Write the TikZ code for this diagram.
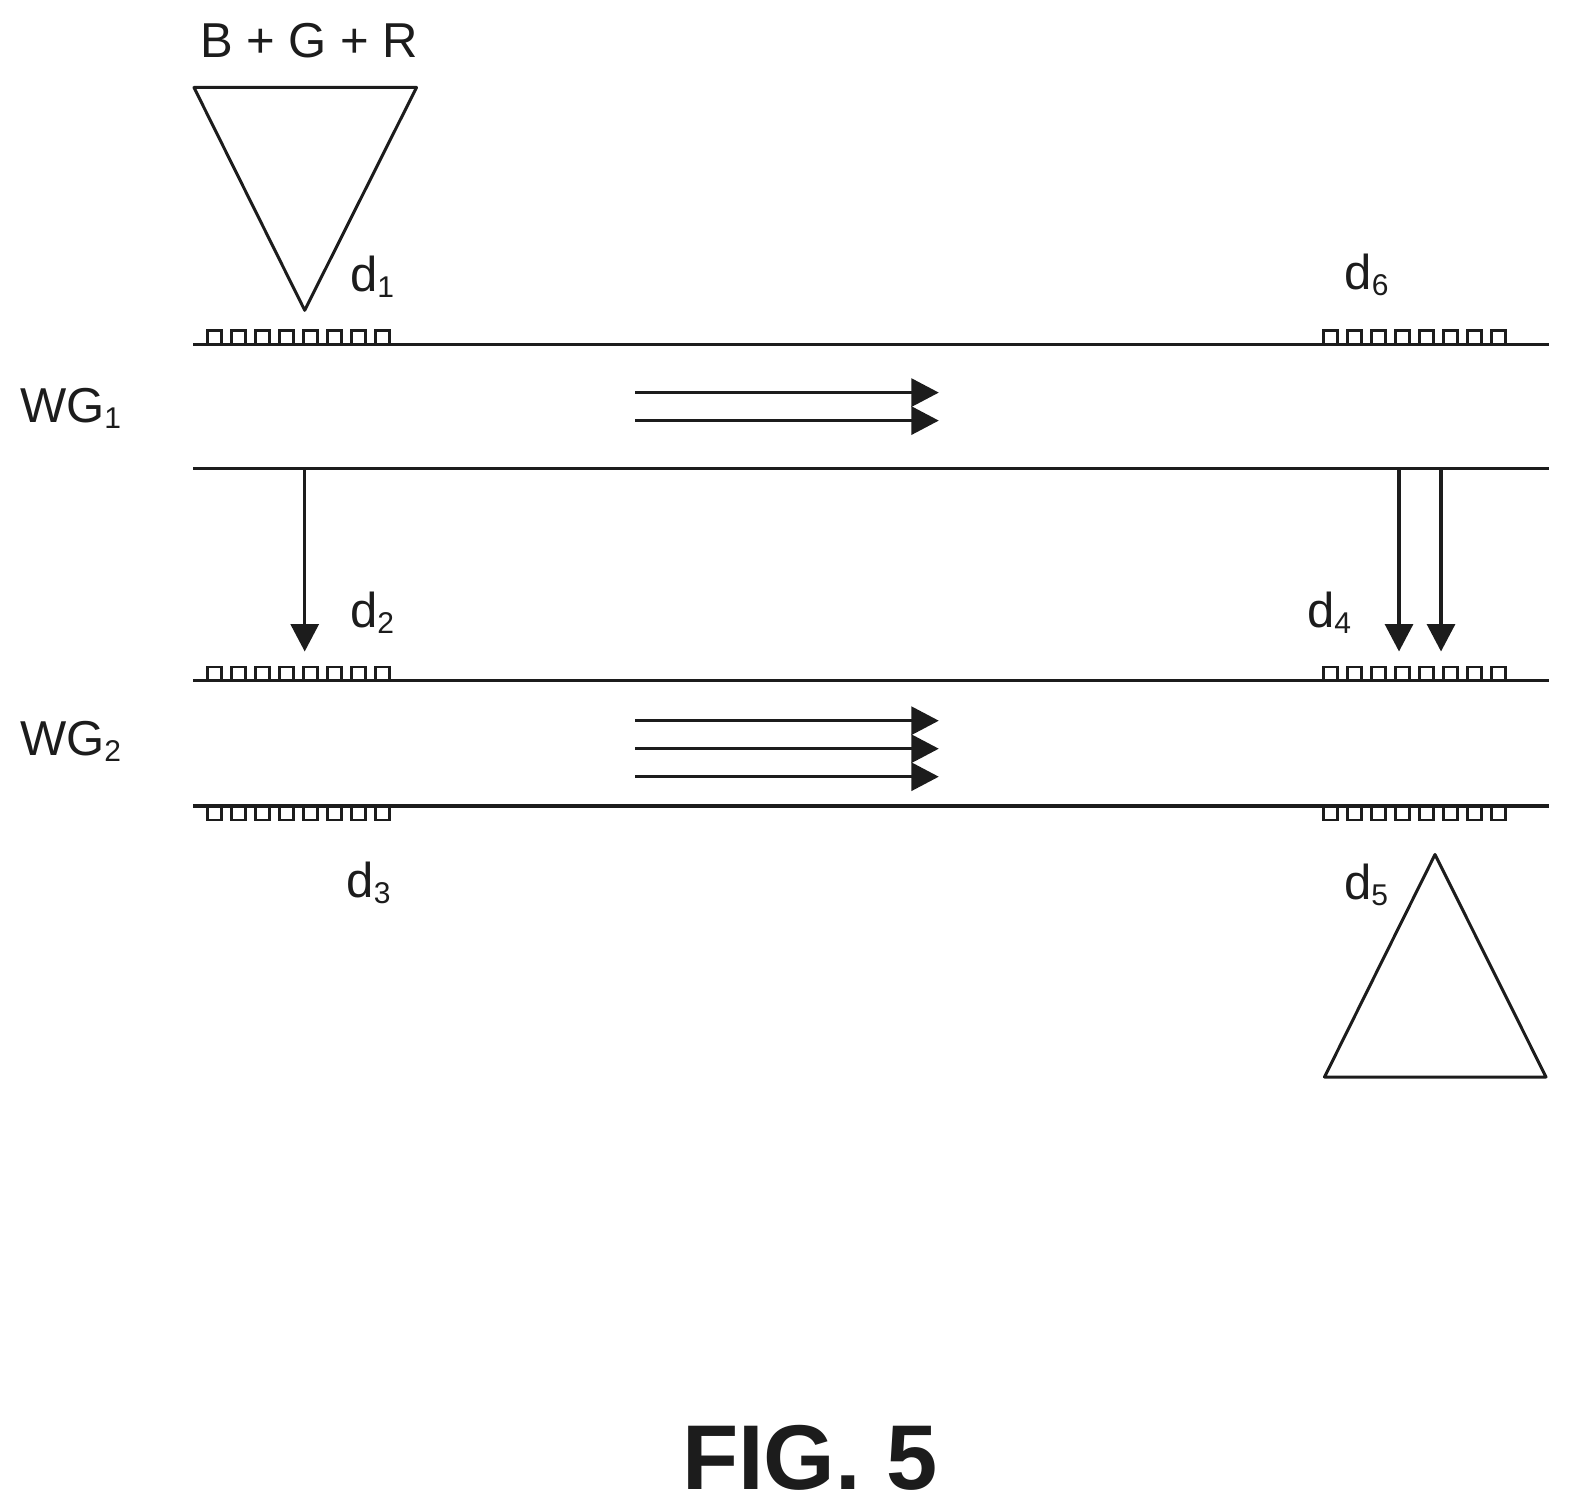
\documentclass[tikz,border=0pt]{standalone}
\usepackage{fontspec}
\setmainfont{Liberation Sans}
\usetikzlibrary{arrows.meta}
\definecolor{ink}{HTML}{1C1C1C}
\newcommand{\lowsub}[1]{\raisebox{-6pt}{\fontsize{30}{30}\selectfont #1}}
\tikzset{
  guide/.style={draw=ink,line width=3.3pt},
  prism/.style={draw=ink,line width=3pt,line join=round},
  ray/.style={draw=ink,line width=3.3pt,-{Triangle[length=27.5pt,width=28pt,color=ink]}},
  tooth/.style={draw=ink,line width=2.8pt},
  lbl/.style={inner sep=0pt,outer sep=0pt,anchor=base west,text=ink,font=\fontsize{49}{49}\selectfont},
}
\newcommand{\grating}[3]{% x start, y top, y bottom
  \foreach \k in {0,...,7}{
    \draw[tooth] ({#1+24*\k},#3) -- ({#1+24*\k},#2) -- ({#1+24*\k+14.5},#2) -- ({#1+24*\k+14.5},#3);
  }
}
\begin{document}
\begin{tikzpicture}[x=1pt,y=-1pt]
\useasboundingbox (0,0) rectangle (1570,1511);
% waveguide ends
\coordinate (a1) at (193.3,344.8); \coordinate (a2) at (1549.3,344.8);
\coordinate (b1) at (193.3,468.7); \coordinate (b2) at (1549.3,468.7);
\coordinate (c1) at (193.3,680.8); \coordinate (c2) at (1549.3,680.8);
\coordinate (e1) at (193.3,806); \coordinate (e2) at (1549.3,806);
\draw[guide] (a1) -- (a2);
\draw[guide] (b1) -- (b2);
\draw[guide] (c1) -- (c2);
\draw[guide] (e1) -- (e2);
% gratings
\grating{207.3}{330.6}{344.8}
\grating{1323.3}{330.6}{344.8}
\grating{207.3}{667}{680.8}
\grating{1323.3}{667}{680.8}
\grating{207.3}{820}{806}
\grating{1323.3}{820}{806}
% prisms
\coordinate (p1) at (194,87.5); \coordinate (p2) at (416.5,87.5); \coordinate (p3) at (304.7,310.3);
\draw[prism] (p1) -- (p2) -- (p3) -- cycle;
\coordinate (q1) at (1324.5,1077); \coordinate (q2) at (1546,1077); \coordinate (q3) at (1435,854.5);
\draw[prism] (q1) -- (q2) -- (q3) -- cycle;
% horizontal rays
\coordinate (r1s) at (635,392.6); \coordinate (r1e) at (938.8,392.6);
\coordinate (r2s) at (635,420.6); \coordinate (r2e) at (938.8,420.6);
\coordinate (r3s) at (635,720.7); \coordinate (r3e) at (938.8,720.7);
\coordinate (r4s) at (635,748.7); \coordinate (r4e) at (938.8,748.7);
\coordinate (r5s) at (635,776.7); \coordinate (r5e) at (938.8,776.7);
\draw[ray] (r1s) -- (r1e);
\draw[ray] (r2s) -- (r2e);
\draw[ray] (r3s) -- (r3e);
\draw[ray] (r4s) -- (r4e);
\draw[ray] (r5s) -- (r5e);
% vertical rays
\coordinate (v1s) at (304.7,468.7); \coordinate (v1e) at (304.7,651.5);
\coordinate (v2s) at (1399,468.7); \coordinate (v2e) at (1399,651.5);
\coordinate (v3s) at (1441,468.7); \coordinate (v3e) at (1441,651.5);
\draw[ray] (v1s) -- (v1e);
\draw[ray] (v2s) -- (v2e);
\draw[ray] (v3s) -- (v3e);
% labels
\node[lbl] (tbgr) at (200,57.5) {B + G + R};
\node[lbl] (tw1) at (20,422.5) {WG\lowsub{1}};
\node[lbl] (tw2) at (20,755) {WG\lowsub{2}};
\node[lbl] (td1) at (350,291) {d\lowsub{1}};
\node[lbl] (td2) at (350,627) {d\lowsub{2}};
\node[lbl] (td3) at (346.5,897) {d\lowsub{3}};
\node[lbl] (td4) at (1307,627) {d\lowsub{4}};
\node[lbl] (td5) at (1344,899) {d\lowsub{5}};
\node[lbl] (td6) at (1344.5,290) {d\lowsub{6}};
\node[lbl,font=\fontsize{92}{92}\selectfont\bfseries] (tfig) at (682,1489) {FIG. 5};
\end{tikzpicture}
\end{document}
